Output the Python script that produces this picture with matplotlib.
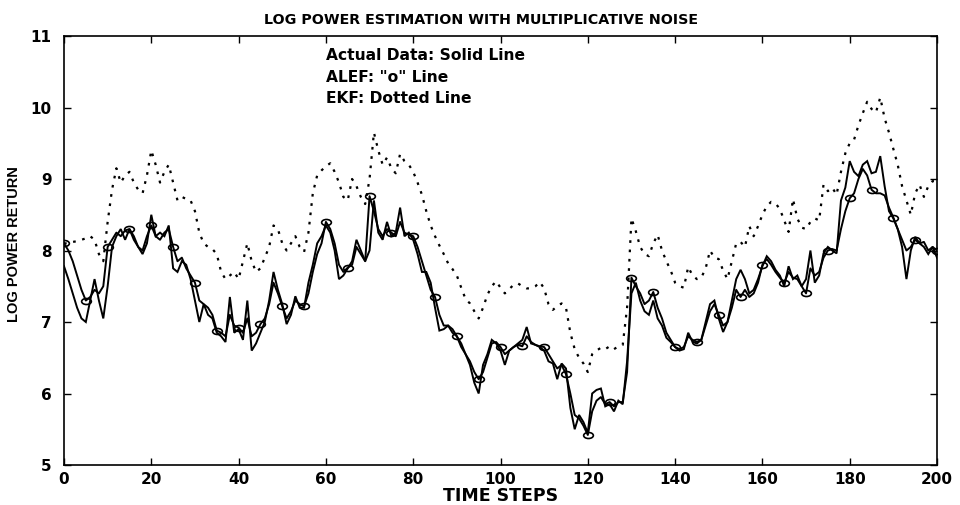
import numpy as np
import matplotlib
matplotlib.use("Agg")
import matplotlib.pyplot as plt
from matplotlib.path import Path
from matplotlib.transforms import Affine2D

# ---- data ----
time_steps = list(range(0, 201))

actual = [
    7.78, 7.60, 7.40, 7.20, 7.05, 7.00, 7.30, 7.60, 7.30, 7.05,
    7.50, 8.05, 8.20, 8.30, 8.15, 8.30, 8.15, 8.05, 7.95, 8.10,
    8.50, 8.20, 8.25, 8.20, 8.35, 7.75, 7.70, 7.85, 7.80, 7.60,
    7.30, 7.00, 7.25, 7.10, 7.05, 6.85, 6.80, 6.72, 7.35, 6.85,
    6.90, 6.75, 7.30, 6.60, 6.70, 6.85, 7.00, 7.30, 7.70, 7.45,
    7.25, 6.97, 7.10, 7.36, 7.20, 7.20, 7.55, 7.80, 8.10, 8.20,
    8.35, 8.25, 8.00, 7.60, 7.65, 7.75, 7.85, 8.15, 8.00, 7.85,
    8.00, 8.70, 8.25, 8.15, 8.40, 8.20, 8.25, 8.60, 8.20, 8.25,
    8.15, 7.95, 7.70, 7.70, 7.55, 7.20, 6.88, 6.90, 6.95, 6.90,
    6.80, 6.65, 6.55, 6.40, 6.15, 6.00, 6.40, 6.55, 6.75, 6.70,
    6.60, 6.40, 6.60, 6.65, 6.70, 6.75, 6.93, 6.70, 6.68, 6.65,
    6.60, 6.45, 6.42, 6.20, 6.42, 6.35, 5.80, 5.50, 5.70, 5.60,
    5.45, 6.00, 6.05, 6.07, 5.82, 5.85, 5.75, 5.90, 5.85, 6.45,
    7.40, 7.55, 7.30, 7.15, 7.10, 7.30, 7.05, 6.95, 6.78, 6.72,
    6.65, 6.60, 6.62, 6.85, 6.72, 6.70, 6.75, 7.00, 7.25, 7.30,
    7.05, 6.86, 7.00, 7.30, 7.60, 7.73, 7.60, 7.40, 7.45, 7.60,
    7.78, 7.92, 7.85, 7.73, 7.65, 7.50, 7.78, 7.60, 7.65, 7.50,
    7.60, 8.00, 7.55, 7.65, 7.96, 8.05, 8.00, 7.96, 8.70, 8.88,
    9.25, 9.10, 9.04, 9.20, 9.25, 9.08, 9.10, 9.32, 8.90, 8.55,
    8.45, 8.30, 8.05, 7.60, 8.00, 8.19, 8.10, 8.05, 7.95, 8.05,
    7.90,
]

alef = [
    8.10, 8.00, 7.85, 7.65, 7.45, 7.30, 7.35, 7.45, 7.40, 7.50,
    8.05, 8.15, 8.25, 8.20, 8.28, 8.30, 8.20, 8.05, 8.00, 8.20,
    8.35, 8.20, 8.15, 8.25, 8.30, 8.05, 7.85, 7.90, 7.75, 7.65,
    7.55, 7.30, 7.25, 7.20, 7.10, 6.88, 6.85, 6.80, 7.10, 6.95,
    6.92, 6.85, 7.05, 6.80, 6.85, 6.97, 7.05, 7.25, 7.55, 7.40,
    7.22, 7.05, 7.15, 7.30, 7.25, 7.22, 7.40, 7.70, 7.95, 8.10,
    8.40, 8.30, 8.10, 7.80, 7.70, 7.76, 7.80, 8.05, 7.95, 7.85,
    8.76, 8.55, 8.30, 8.20, 8.30, 8.25, 8.20, 8.40, 8.25, 8.22,
    8.20, 8.05, 7.85, 7.65, 7.45, 7.35, 7.10, 6.95, 6.95, 6.85,
    6.80, 6.70, 6.55, 6.45, 6.30, 6.20, 6.30, 6.50, 6.70, 6.72,
    6.65, 6.55, 6.60, 6.65, 6.68, 6.66, 6.80, 6.72, 6.68, 6.66,
    6.65, 6.55, 6.45, 6.35, 6.40, 6.27, 6.00, 5.70, 5.65, 5.55,
    5.42, 5.75, 5.90, 5.95, 5.85, 5.88, 5.82, 5.88, 5.88, 6.30,
    7.62, 7.50, 7.40, 7.25, 7.30, 7.42, 7.20, 7.05, 6.85, 6.75,
    6.65, 6.62, 6.65, 6.80, 6.75, 6.72, 6.75, 6.95, 7.15, 7.25,
    7.10, 6.95, 7.00, 7.20, 7.45, 7.35, 7.45, 7.35, 7.40, 7.55,
    7.80, 7.88, 7.80, 7.70, 7.62, 7.55, 7.70, 7.62, 7.60, 7.50,
    7.40, 7.75, 7.65, 7.70, 7.90, 8.00, 8.02, 8.00, 8.30, 8.55,
    8.73, 8.80, 9.00, 9.14, 9.05, 8.85, 8.80, 8.80, 8.77, 8.60,
    8.46, 8.30, 8.15, 8.00, 8.05, 8.15, 8.10, 8.12, 8.00, 8.05,
    8.00,
]

ekf = [
    8.10, 8.10, 8.12, 8.13, 8.15, 8.17, 8.20, 8.15, 7.95, 7.85,
    8.40, 8.85, 9.15, 8.95, 9.05, 9.10, 8.95, 8.85, 8.80, 9.05,
    9.40, 9.20, 8.95, 9.10, 9.20, 8.95, 8.70, 8.75, 8.72, 8.70,
    8.55, 8.25, 8.10, 8.05, 8.02, 7.95, 7.70, 7.60, 7.65, 7.70,
    7.60, 7.85, 8.10, 7.85, 7.70, 7.75, 7.90, 8.05, 8.35, 8.30,
    8.10, 8.00, 8.10, 8.20, 8.05, 7.98, 8.25, 8.80, 9.05, 9.12,
    9.18, 9.22, 9.10, 8.95, 8.75, 8.70, 9.00, 8.90, 8.75, 8.65,
    9.00, 9.65, 9.40, 9.20, 9.30, 9.15, 9.08, 9.35, 9.25, 9.20,
    9.10, 8.95, 8.78, 8.55, 8.35, 8.20, 8.07, 7.95, 7.82, 7.74,
    7.65, 7.48, 7.32, 7.26, 7.15, 7.05, 7.20, 7.38, 7.50, 7.57,
    7.48, 7.40, 7.46, 7.52, 7.54, 7.50, 7.47, 7.47, 7.50, 7.56,
    7.47, 7.25, 7.17, 7.22, 7.26, 7.20, 6.85, 6.62, 6.50, 6.42,
    6.30, 6.55, 6.60, 6.64, 6.62, 6.66, 6.62, 6.66, 6.68, 7.20,
    8.45, 8.27, 8.05, 7.95, 7.92, 8.10, 8.22, 8.00, 7.85, 7.72,
    7.55, 7.50, 7.48, 7.77, 7.65, 7.60, 7.62, 7.75, 8.00, 7.90,
    7.88, 7.72, 7.60, 7.85, 8.10, 8.12, 8.05, 8.34, 8.20, 8.34,
    8.50, 8.62, 8.68, 8.66, 8.58, 8.42, 8.26, 8.72, 8.45, 8.32,
    8.30, 8.40, 8.45, 8.42, 8.92, 8.83, 8.88, 8.78, 9.10, 9.36,
    9.50, 9.55, 9.75, 9.92, 10.08, 9.98, 9.93, 10.14, 9.85, 9.65,
    9.42, 9.20, 8.90, 8.70, 8.50, 8.80, 8.92, 8.75, 8.90, 8.97,
    8.97,
]

x_ticks = [0, 20, 40, 60, 80, 100, 120, 140, 160, 180, 200]
y_ticks = [5, 6, 7, 8, 9, 10, 11]
notes = ['Actual Data: Solid Line', 'ALEF: "o" Line', 'EKF: Dotted Line']

# ---- figure ----
plt.rcParams['font.family'] = ['DejaVu Sans']
fig = plt.figure(figsize=(9.6, 5.05), dpi=100)
ax = fig.add_axes([64 / 960, 40 / 505, 873 / 960, 429 / 505])

ellipse = Affine2D().scale(1.0, 0.62).transform_path(Path.unit_circle())

ax.plot(time_steps, actual, color='black', lw=1.4, solid_joinstyle='miter')
ax.plot(time_steps, alef, color='black', lw=1.4, marker=ellipse, markevery=5,
        markersize=7, markerfacecolor='none', markeredgecolor='black',
        markeredgewidth=1.2)
ax.plot(time_steps, ekf, color='black', lw=1.6, linestyle=(0, (1.2, 3.0)))

ax.set_xlim(0, 200)
ax.set_ylim(5, 11)
ax.set_xticks(x_ticks)
ax.set_yticks(y_ticks)
ax.tick_params(direction='in', length=5, width=1.0, top=True, right=True,
               labelsize=11)
ax.tick_params(axis='x', pad=5)
ax.tick_params(axis='y', pad=9)
for lab in ax.get_xticklabels() + ax.get_yticklabels():
    lab.set_fontweight('bold')
for sp in ax.spines.values():
    sp.set_linewidth(1.2)

ax.set_title('LOG POWER ESTIMATION WITH MULTIPLICATIVE NOISE',
             fontsize=10.3, fontweight='bold', pad=9, x=0.478)
ax.set_xlabel('TIME STEPS', fontsize=12.5, fontweight='bold', labelpad=0)
ax.set_ylabel('LOG POWER RETURN', fontsize=10.5, fontweight='bold',
              family=['Liberation Sans', 'DejaVu Sans'])
ax.yaxis.set_label_coords(-0.049, 0.515)

for i, t in enumerate(notes):
    ax.text(60, 10.73 - 0.305 * i, t, fontsize=11.2, fontweight='bold',
            ha='left', va='center')

fig.savefig('out.png', dpi=100)
